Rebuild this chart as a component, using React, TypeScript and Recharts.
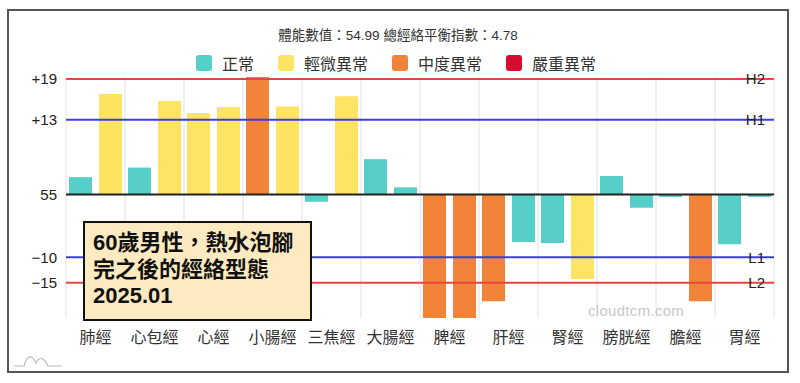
import { BarChart, Bar, Cell, XAxis, YAxis, CartesianGrid, ReferenceLine, Legend } from 'recharts';

const meridians = ['肺經', '心包經', '心經', '小腸經', '三焦經', '大腸經', '脾經', '肝經', '腎經', '膀胱經', '膽經', '胃經'];
const leftValues = [2.9, 4.5, 13.6, 19.6, -1.2, 5.9, -20.6, -17.8, -8.1, 3.1, -0.4, -8.3];
const rightValues = [16.8, 15.6, 14.6, 14.7, 16.4, 1.2, -20.6, -7.9, -14.1, -2.2, -17.8, -0.4];
const leftLevels = [0, 0, 1, 2, 0, 0, 2, 2, 0, 0, 0, 0];
const rightLevels = [1, 1, 1, 1, 1, 0, 2, 0, 1, 0, 2, 0];

const levelNames = ['正常', '輕微異常', '中度異常', '嚴重異常'];
const levelColors = ['#55cfc7', '#ffe362', '#f2843a', '#d80c2e'];

const tickValues = [19.3, 12.5, 0, -10.45, -14.7];
const tickLabels = ['+19', '+13', '55', '−10', '−15'];
const refLabels = ['H2', 'H1', '', 'L1', 'L2'];
const refColors = ['#e8453f', '#3c3ce0', '#222222', '#3c3ce0', '#e8453f'];

const titleText = '體能數值：54.99 總經絡平衡指數：4.78';
const noteLines = ['60歲男性，熱水泡腳', '完之後的經絡型態', '2025.01'];

const data = meridians.map((name, i) => ({ name, left: leftValues[i], right: rightValues[i] }));

const FONT = "'Liberation Sans', 'Noto Sans CJK TC', sans-serif";

function LegendBox() {
  return (
    <div style={{ display: 'flex', justifyContent: 'center', alignItems: 'center', gap: 24, fontFamily: FONT, fontSize: 16, color: '#333' }}>
      {levelNames.map((n, i) => (
        <div key={n} style={{ display: 'flex', alignItems: 'center' }}>
          <span style={{ width: 16, height: 16, borderRadius: 3, background: levelColors[i], marginRight: 10, display: 'inline-block' }} />
          <span>{n}</span>
        </div>
      ))}
    </div>
  );
}

export default function App() {
  return (
    <div style={{ position: 'absolute', left: 0, top: 0, width: 800, height: 383, background: '#fff', fontFamily: FONT }}>
      <div style={{ position: 'absolute', left: 7, top: 9, width: 782, height: 364, border: '2px solid #555', boxSizing: 'border-box' }} />
      <div style={{ position: 'absolute', left: 0, top: 24, width: 796, textAlign: 'center', fontSize: 13.5, color: '#333' }}>{titleText}</div>
      <BarChart
        width={800}
        height={383}
        data={data}
        margin={{ top: 76.5, right: 26, left: 16, bottom: 35 }}
        barCategoryGap={3}
        barGap={7}
        style={{ position: 'absolute', left: 0, top: 0 }}
      >
        <CartesianGrid
          horizontal={false}
          stroke="#e2e2e2"
          verticalCoordinatesGenerator={({ offset }: any) =>
            Array.from({ length: meridians.length + 1 }, (_, i) => offset.left + (i * offset.width) / meridians.length)
          }
        />
        <XAxis dataKey="name" axisLine={false} tickLine={false} tickMargin={8} height={30} interval={0}
          tick={{ fontSize: 16, fill: '#333', fontFamily: FONT }} />
        <YAxis type="number" domain={[-20.6, 19.7]} ticks={tickValues} axisLine={false} tickLine={false} tickMargin={3} width={50}
          tickFormatter={(v: number) => tickLabels[tickValues.indexOf(v)] ?? ''}
          tick={{ fontSize: 15, fill: '#222', fontFamily: FONT }} />
        <Legend verticalAlign="middle" align="center" layout="horizontal" wrapperStyle={{ top: 51, left: -4, width: 800 }} content={() => <LegendBox />} />
        <Bar dataKey="left" isAnimationActive={false}>
          {data.map((d, i) => <Cell key={d.name} fill={levelColors[leftLevels[i]]} />)}
        </Bar>
        <Bar dataKey="right" isAnimationActive={false}>
          {data.map((d, i) => <Cell key={d.name} fill={levelColors[rightLevels[i]]} />)}
        </Bar>
        {tickValues.map((v, i) => (
          <ReferenceLine key={i} y={v} stroke={refColors[i]} strokeWidth={2}
            label={refLabels[i] ? { value: refLabels[i], position: 'insideRight', offset: 9, fill: '#222', fontSize: 15, fontFamily: FONT } : undefined} />
        ))}
      </BarChart>
      <div style={{ position: 'absolute', left: 588, top: 302, fontSize: 15, color: '#c8c8c8', letterSpacing: 0.3 }}>cloudtcm.com</div>
      <div style={{ position: 'absolute', left: 83, top: 221, width: 229, height: 100, boxSizing: 'border-box', border: '2px solid #111', background: '#fdeac0', padding: '7px 8px', fontSize: 22, fontWeight: 'bold', lineHeight: '26.5px', color: '#111' }}>
        {noteLines.map((l) => <div key={l}>{l}</div>)}
      </div>
      <svg style={{ position: 'absolute', left: 0, top: 0 }} width={80} height={383}>
        <path d="M14 366 L24 366 Q27 356 31 357 Q34 358 36 363 Q39 357 43 359 Q46 361 48 366 L62 366" fill="none" stroke="#bbb" strokeWidth={1.2} />
      </svg>
    </div>
  );
}
